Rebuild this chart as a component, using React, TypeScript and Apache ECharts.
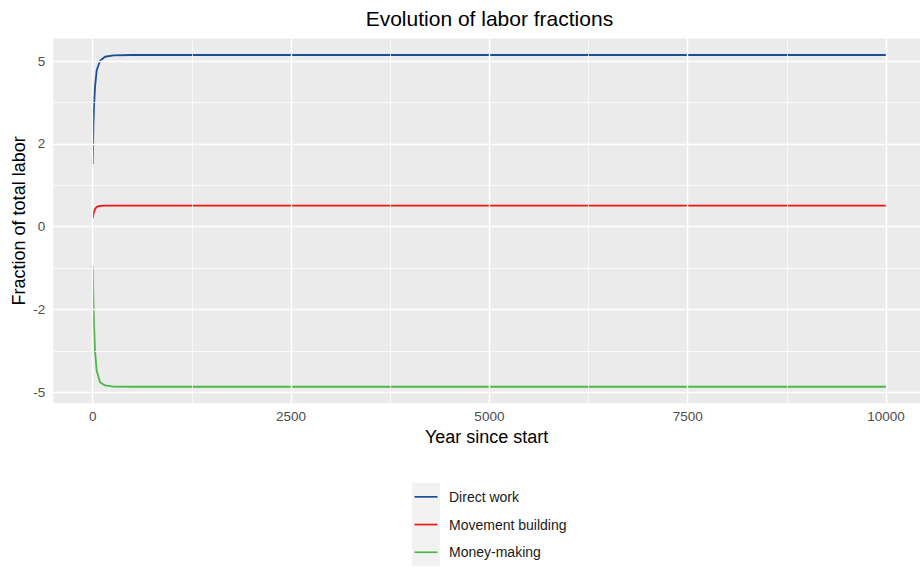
import React, { useEffect, useRef } from "react";
import * as echarts from "echarts";

// Years since start (x) and series values in the chart's (transformed) y-axis units
const years = [0, 8, 16, 29, 50, 92, 155, 260, 500, 1000, 10000];
const directWork = [0.758, 1.2, 1.45, 1.69, 1.89, 2.006, 2.054, 2.071, 2.075, 2.075, 2.075];
const movementBuilding = [0.1, 0.15, 0.18, 0.21, 0.24, 0.252, 0.254, 0.254, 0.254, 0.254, 0.254];
const moneyMaking = [-0.475, -0.85, -1.167, -1.5, -1.74, -1.88, -1.918, -1.932, -1.934, -1.934, -1.934];

const yTickValues = [-2, -1, 0, 1, 2];
const yTickLabels = ["-5", "-2", "0", "2", "5"];
const yMinorValues = [-1.5, -0.5, 0.5, 1.5];
const xTickValues = [0, 2500, 5000, 7500, 10000];
const xMinorValues = [1250, 3750, 6250, 8750];

const seriesNames = ["Direct work", "Movement building", "Money-making"];
const seriesColors = ["#1A4F97", "#F01414", "#4DB848"];

export default function App() {
  const ref = useRef<HTMLDivElement>(null);
  useEffect(() => {
    const chart = echarts.init(ref.current!, null, { renderer: "svg" });
    const font = "'Liberation Sans', Arial, Helvetica, sans-serif";
    const allValues = [directWork, movementBuilding, moneyMaking];

    const gridLines = [
      ...yTickValues.map((v) => ({ yAxis: v, lineStyle: { width: 1.4 } })),
      ...yMinorValues.map((v) => ({ yAxis: v, lineStyle: { width: 0.7 } })),
      ...xTickValues.map((v) => ({ xAxis: v, lineStyle: { width: 1.4 } })),
      ...xMinorValues.map((v) => ({ xAxis: v, lineStyle: { width: 0.7 } })),
    ];

    const legendTop = 483;
    const keyH = 27.7;
    const legendGraphics: any[] = [
      { type: "rect", shape: { x: 412, y: legendTop, width: 28, height: keyH * 3 }, style: { fill: "#F2F2F2" } },
    ];
    seriesNames.forEach((n, i) => {
      const cy = legendTop + keyH * i + keyH / 2;
      legendGraphics.push({
        type: "line",
        shape: { x1: 414.5, y1: cy, x2: 437.5, y2: cy },
        style: { stroke: seriesColors[i], lineWidth: 1.7 },
      });
      legendGraphics.push({
        type: "text",
        x: 449,
        y: cy,
        style: { text: n, fill: "#1A1A1A", fontSize: 14, fontFamily: font, textVerticalAlign: "middle" },
      });
    });

    chart.setOption({
      animation: false,
      backgroundColor: "#FFFFFF",
      grid: {
        left: 53.3,
        top: 38.45,
        right: 0,
        height: 364.85,
        show: true,
        backgroundColor: "#EBEBEB",
        borderWidth: 0,
        containLabel: false,
        outerBoundsMode: "none",
      },
      xAxis: {
        type: "value",
        min: -497,
        max: 10428,
        name: "Year since start",
        nameLocation: "middle",
        nameGap: 24,
        nameTextStyle: { fontSize: 18, color: "#000000", fontFamily: font },
        axisLine: { show: false },
        axisTick: { show: true, length: 3, lineStyle: { color: "#333333", width: 1 }, customValues: xTickValues },
        axisLabel: {
          customValues: xTickValues,
          formatter: (v: number) => String(Math.round(v)),
          color: "#4D4D4D",
          fontSize: 13.5,
          fontFamily: font,
          margin: 6,
        },
        splitLine: { show: false },
      },
      yAxis: {
        type: "value",
        min: -2.134,
        max: 2.275,
        name: "Fraction of total labor",
        nameLocation: "middle",
        nameGap: 25,
        nameMoveOverlap: false,
        nameTextStyle: { fontSize: 18, color: "#000000", fontFamily: font },
        axisLine: { show: false },
        axisTick: { show: true, length: 3, lineStyle: { color: "#333333", width: 1 }, customValues: yTickValues },
        axisLabel: {
          customValues: yTickValues,
          formatter: (v: number) => {
            const i = yTickValues.findIndex((t) => Math.abs(t - v) < 1e-6);
            return i >= 0 ? yTickLabels[i] : "";
          },
          color: "#4D4D4D",
          fontSize: 13.5,
          fontFamily: font,
          margin: 8,
        },
        splitLine: { show: false },
      },
      graphic: [
        {
          type: "text",
          x: 489.4,
          y: 18,
          style: {
            text: "Evolution of labor fractions",
            fill: "#000000",
            fontSize: 21,
            fontFamily: font,
            textAlign: "center",
            textVerticalAlign: "middle",
          },
        },
        ...legendGraphics,
      ],
      series: [
        {
          type: "line",
          name: "grid",
          data: [],
          z: 1,
          silent: true,
          markLine: {
            silent: true,
            symbol: ["none", "none"],
            label: { show: false },
            lineStyle: { color: "#FFFFFF", type: "solid", width: 1.4 },
            emphasis: { disabled: true },
            data: gridLines,
          },
        },
        ...seriesNames.map((n, i) => ({
          type: "line",
          name: n,
          z: 3,
          showSymbol: false,
          symbol: "none",
          lineStyle: { color: seriesColors[i], width: 1.8 },
          itemStyle: { color: seriesColors[i] },
          data: years.map((y, j) => [y, allValues[i][j]]),
        })),
      ],
    });
    return () => chart.dispose();
  }, []);
  return <div ref={ref} style={{ position: "fixed", left: 0, top: 0, width: 920, height: 570 }} />;
}
